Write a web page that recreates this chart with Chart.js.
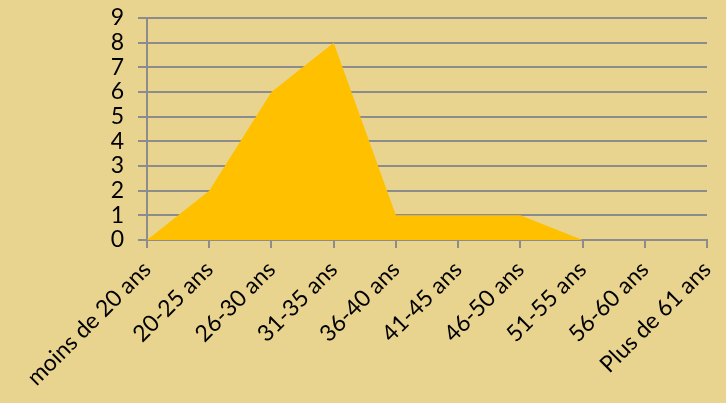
<!DOCTYPE html>
<html>
<head>
<meta charset="utf-8">
<script src="https://cdn.jsdelivr.net/npm/chart.js@4"></script>
<style>
  html, body { margin: 0; padding: 0; background: #E9D48F; }
  #wrap { width: 726px; height: 403px; }
</style>
</head>
<body>
<div id="wrap"><canvas id="ageChart" width="726" height="403"></canvas></div>
<script>
// Tranches d'âge et effectifs
const categories = ['moins de 20 ans', '20-25 ans', '26-30 ans', '31-35 ans', '36-40 ans',
  '41-45 ans', '46-50 ans', '51-55 ans', '56-60 ans', 'Plus de 61 ans'];
const effectifs = [0, 2, 6, 8, 1, 1, 1, 0, 0, 0];
const yTicks = [0, 1, 2, 3, 4, 5, 6, 7, 8, 9];

const gris = '#8C8C8C';

document.addEventListener('DOMContentLoaded', function() {
  var ctx = document.getElementById('ageChart').getContext('2d');

  new Chart(ctx, {
    type: 'line',
    data: {
      labels: categories,
      datasets: [{
        data: effectifs,
        fill: 'origin',
        backgroundColor: '#FFC000',
        borderWidth: 0,
        pointRadius: 0,
        tension: 0
      }]
    },
    options: {
      responsive: false,
      animation: false,
      layout: { padding: { left: 0, right: 19, top: 18, bottom: 0 } },
      plugins: { legend: { display: false }, tooltip: { enabled: false } },
      scales: {
        x: {
          offset: false,
          grid: { display: true, drawOnChartArea: false, color: gris, lineWidth: 2, tickLength: 8 },
          border: { color: gris, width: 2 },
          ticks: {
            color: '#000',
            font: { family: 'Lato', size: 23 },
            maxRotation: 45, minRotation: 45,
            autoSkip: false, padding: 8
          },
          afterFit: function(scale) {
            scale.height = 163;
            scale.paddingLeft = 0;
            scale.paddingRight = 0;
          }
        },
        y: {
          min: 0, max: 9,
          afterBuildTicks: function(scale) { scale.ticks = yTicks.map(v => ({ value: v })); },
          grid: { color: gris, lineWidth: 2, tickLength: 9 },
          border: { color: gris, width: 2 },
          ticks: {
            color: '#000',
            font: { family: 'Lato', size: 23 },
            autoSkip: false,
            padding: 14
          },
          afterFit: function(scale) {
            scale.width = 147;
            scale.paddingTop = 0;
            scale.paddingBottom = 0;
          }
        }
      }
    }
  });
});
</script>
</body>
</html>
